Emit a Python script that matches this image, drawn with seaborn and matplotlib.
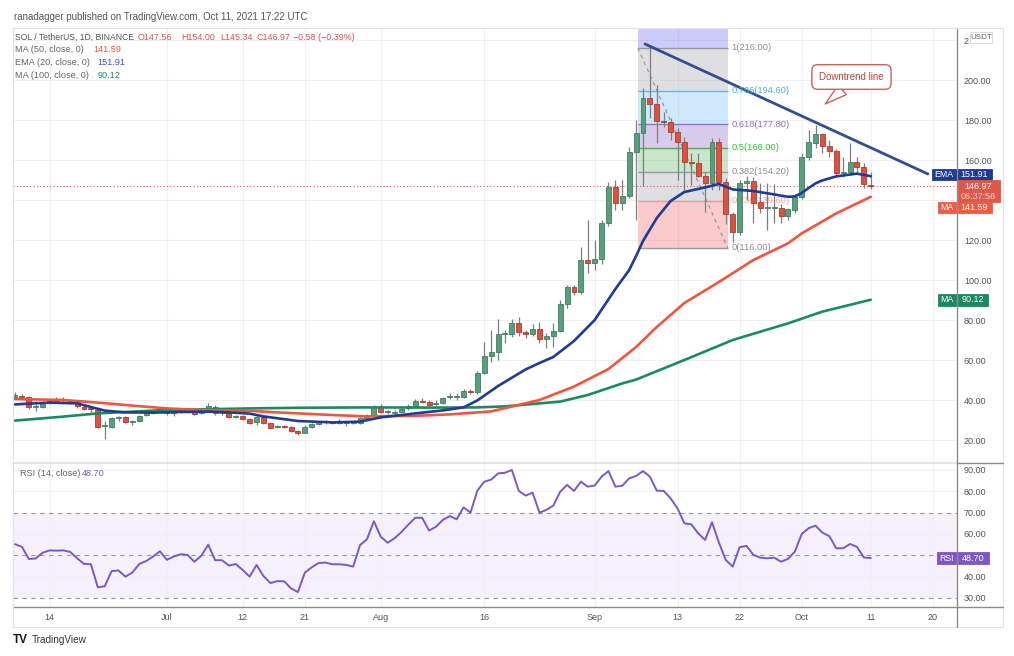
import numpy as np
import pandas as pd
import matplotlib
matplotlib.use('Agg')
import matplotlib.pyplot as plt
import matplotlib.dates as mdates
from matplotlib.patches import Rectangle
from matplotlib.lines import Line2D
import seaborn as sns

# SOL / USDT daily candles (Binance)
first_day = '2021-06-09'
opens = [41.3, 42.2, 41.3, 36.5, 36.7, 38.3, 39.7, 40.2, 39.5, 39.3,
         36.7, 35.5, 35.0, 27.0, 26.7, 30.8, 31.3, 29.0, 29.7, 32.5,
         33.3, 34.7, 35.8, 33.3, 33.8, 34.5, 34.2, 33.3, 34.2, 36.7,
         33.3, 33.3, 31.7, 32.0, 30.3, 29.2, 31.3, 28.7, 26.5, 26.7,
         26.3, 24.7, 23.7, 26.7, 27.8, 28.8, 29.0, 29.2, 28.3, 28.5,
         28.3, 31.2, 32.2, 36.7, 33.8, 33.3, 34.2, 35.8, 37.2, 39.7,
         39.2, 38.0, 38.7, 41.3, 41.6, 41.3, 44.7, 43.8, 53.7, 62.2,
         63.8, 72.8, 72.8, 78.7, 73.8, 72.8, 75.5, 70.3, 72.0, 74.7,
         88.0, 96.3, 94.2, 110.0, 108.3, 110.5, 128.3, 146.3, 138.7, 142.2,
         164.2, 173.3, 190.8, 188.0, 179.7, 178.8, 174.2, 169.2, 158.8, 158.5,
         152.0, 148.5, 169.0, 149.0, 132.8, 124.2, 148.3, 149.7, 139.2, 135.8,
         135.8, 136.2, 132.0, 135.0, 141.3, 161.7, 168.7, 172.8, 167.0, 164.7,
         153.3, 153.8, 158.8, 156.7, 147.56]
highs = [44.0, 43.0, 42.0, 38.0, 39.5, 40.5, 41.5, 41.5, 40.5, 40.0,
         37.5, 36.5, 35.5, 29.5, 31.5, 32.0, 32.0, 29.8, 32.3, 34.0,
         35.0, 36.5, 36.3, 34.5, 35.0, 35.2, 34.5, 34.7, 38.3, 37.3,
         34.2, 33.8, 32.7, 32.5, 30.8, 31.8, 31.8, 29.0, 27.3, 27.3,
         26.8, 25.0, 27.3, 28.3, 29.3, 29.8, 29.7, 30.3, 29.2, 29.5,
         31.5, 33.0, 37.5, 38.0, 35.0, 35.0, 36.2, 38.0, 40.5, 40.8,
         39.8, 40.0, 41.5, 43.5, 43.5, 45.5, 45.5, 54.5, 69.0, 75.0,
         80.3, 75.0, 80.3, 81.7, 75.0, 78.0, 79.0, 73.5, 78.3, 90.0,
         97.5, 97.5, 116.7, 130.0, 120.0, 130.0, 149.0, 150.0, 150.0, 166.7,
         180.0, 196.0, 217.0, 197.5, 184.0, 180.8, 175.8, 171.7, 163.3, 163.3,
         154.0, 170.8, 170.8, 151.0, 134.0, 150.0, 152.0, 151.7, 148.3, 148.3,
         148.0, 138.0, 136.0, 143.0, 163.3, 175.0, 177.5, 173.5, 170.0, 165.5,
         161.7, 168.7, 161.7, 158.3, 154.0]
lows = [40.8, 40.5, 35.5, 34.7, 36.0, 38.0, 39.0, 39.0, 38.3, 36.0,
        34.8, 34.0, 26.0, 20.3, 26.0, 29.5, 28.5, 27.5, 29.0, 32.0,
        32.8, 33.5, 32.5, 31.8, 33.3, 33.7, 32.6, 32.8, 33.8, 32.7,
        32.3, 31.2, 31.0, 30.0, 28.0, 27.5, 27.8, 25.8, 26.0, 25.8,
        24.2, 22.5, 23.3, 26.2, 27.5, 28.2, 28.0, 27.8, 27.0, 27.8,
        28.0, 30.5, 32.0, 33.3, 33.0, 32.7, 33.8, 35.0, 36.8, 38.3,
        37.0, 37.0, 38.0, 40.5, 40.0, 41.0, 43.0, 43.0, 53.0, 59.0,
        60.0, 68.3, 71.5, 72.0, 71.0, 72.0, 68.3, 65.8, 66.7, 74.0,
        85.8, 92.5, 93.0, 103.3, 105.0, 108.0, 127.0, 135.0, 135.0, 141.0,
        130.0, 147.0, 180.8, 168.3, 176.7, 170.0, 150.0, 145.0, 147.5, 151.7,
        134.0, 145.0, 145.0, 128.0, 119.0, 122.5, 140.0, 128.3, 133.3, 125.0,
        128.3, 128.3, 130.0, 133.5, 140.5, 160.0, 166.0, 163.3, 161.7, 152.5,
        151.7, 152.5, 154.2, 145.8, 145.34]
closes = [42.5, 41.3, 36.3, 36.8, 38.7, 39.7, 40.2, 39.8, 38.7, 37.0,
          35.5, 35.3, 26.3, 27.2, 30.8, 31.0, 29.0, 29.3, 32.0, 33.3,
          34.2, 35.3, 33.3, 33.8, 34.5, 34.3, 33.0, 34.2, 37.0, 33.3,
          33.5, 31.7, 32.2, 30.3, 28.7, 31.3, 28.3, 26.2, 26.7, 26.5,
          24.5, 23.7, 26.7, 27.8, 28.8, 29.0, 28.7, 28.3, 28.5, 28.8,
          30.8, 32.5, 36.7, 33.8, 34.0, 34.2, 35.5, 37.2, 39.7, 38.8,
          37.5, 38.5, 40.8, 41.6, 41.9, 44.7, 44.0, 53.7, 62.2, 64.2,
          72.8, 73.0, 78.7, 73.8, 72.8, 75.5, 70.3, 72.0, 74.7, 88.0,
          96.3, 94.2, 110.0, 108.3, 110.5, 128.3, 146.3, 138.7, 142.0, 164.2,
          173.3, 190.8, 188.0, 179.7, 178.8, 174.2, 169.2, 158.8, 158.5, 152.0,
          148.5, 169.0, 149.0, 132.8, 124.2, 148.3, 149.7, 138.5, 135.8, 136.0,
          136.0, 132.0, 135.3, 141.3, 161.7, 169.2, 172.8, 167.0, 164.7, 153.3,
          153.8, 158.8, 156.7, 147.8, 146.97]
rsi14 = [55.2, 54.0, 48.3, 48.5, 51.2, 52.3, 52.2, 52.3, 51.6, 48.6,
         46.0, 45.8, 35.0, 35.5, 42.6, 42.9, 40.0, 41.9, 45.9, 47.3,
         49.4, 51.9, 47.9, 49.4, 50.5, 50.2, 47.0, 49.8, 55.0, 47.7,
         47.7, 45.2, 45.9, 43.1, 40.0, 45.5, 40.3, 37.0, 37.9, 37.8,
         34.5, 32.8, 41.9, 44.4, 46.4, 46.6, 45.8, 45.8, 45.5, 44.7,
         54.8, 57.5, 66.0, 58.7, 55.9, 58.0, 60.9, 64.4, 67.6, 67.6,
         61.6, 63.4, 66.6, 68.4, 66.9, 72.5, 70.0, 80.3, 84.5, 85.5,
         88.4, 88.7, 90.0, 80.2, 78.0, 79.4, 70.0, 71.3, 73.3, 79.8,
         83.0, 80.2, 84.5, 82.2, 82.7, 86.9, 89.5, 82.2, 82.6, 86.1,
         87.2, 89.5, 86.9, 80.3, 80.2, 76.7, 72.0, 65.0, 64.5, 60.3,
         57.2, 65.5, 55.9, 47.8, 44.7, 53.8, 54.4, 50.2, 48.9, 48.6,
         48.9, 47.0, 48.3, 51.7, 60.0, 62.7, 63.9, 60.6, 59.0, 53.3,
         53.3, 55.3, 54.0, 49.0, 48.7]

# moving averages, read at a set of days
ema20_dates = ['2021-06-09', '2021-06-14', '2021-06-18', '2021-06-20', '2021-06-22',
               '2021-06-25', '2021-06-29', '2021-07-03', '2021-07-07', '2021-07-10',
               '2021-07-13', '2021-07-15', '2021-07-20', '2021-07-25', '2021-07-29',
               '2021-08-01', '2021-08-06', '2021-08-10', '2021-08-13', '2021-08-15',
               '2021-08-18', '2021-08-22', '2021-08-24', '2021-08-26', '2021-08-29',
               '2021-09-01', '2021-09-04', '2021-09-06', '2021-09-07', '2021-09-08',
               '2021-09-10', '2021-09-12', '2021-09-14', '2021-09-17', '2021-09-19',
               '2021-09-21', '2021-09-24', '2021-09-27', '2021-09-29', '2021-09-30',
               '2021-10-01', '2021-10-02', '2021-10-03', '2021-10-04', '2021-10-06',
               '2021-10-09', '2021-10-11']
ema20_vals = [37.8, 38.7, 38.3, 36.5, 34.7, 33.8, 33.7, 34.0, 34.2, 33.8,
              33.2, 31.8, 29.5, 28.8, 29.2, 31.3, 33.3, 34.8, 36.3, 39.8,
              47.0, 55.3, 58.5, 61.5, 69.5, 80.0, 95.5, 105.0, 112.0, 119.5,
              131.0, 139.5, 144.0, 146.3, 148.0, 145.3, 144.5, 142.8, 141.6, 141.8,
              143.5, 146.0, 148.3, 149.8, 151.8, 153.2, 151.91]
ma50_dates = ['2021-06-09', '2021-06-16', '2021-06-21', '2021-06-26', '2021-07-01',
              '2021-07-06', '2021-07-13', '2021-07-17', '2021-07-25', '2021-07-30',
              '2021-08-06', '2021-08-11', '2021-08-17', '2021-08-24', '2021-08-29',
              '2021-09-03', '2021-09-07', '2021-09-10', '2021-09-14', '2021-09-19',
              '2021-09-24', '2021-09-29', '2021-10-01', '2021-10-06', '2021-10-11']
ma50_vals = [40.5, 40.0, 38.7, 37.2, 35.8, 35.0, 34.6, 33.8, 32.5, 31.8,
             32.1, 32.8, 34.3, 40.0, 46.7, 55.5, 66.5, 76.5, 88.5, 99.0,
             110.0, 118.3, 123.3, 133.3, 141.59]
ma100_dates = ['2021-06-09', '2021-06-16', '2021-06-21', '2021-06-26', '2021-07-01',
               '2021-07-06', '2021-07-13', '2021-07-20', '2021-07-30', '2021-08-09',
               '2021-08-15', '2021-08-19', '2021-08-27', '2021-08-31', '2021-09-05',
               '2021-09-07', '2021-09-14', '2021-09-21', '2021-09-29', '2021-10-04',
               '2021-10-11']
ma100_vals = [29.7, 31.7, 33.3, 34.2, 35.0, 35.3, 35.8, 36.1, 36.3, 36.2,
              36.3, 36.8, 39.2, 42.5, 48.3, 50.2, 60.0, 70.0, 78.3, 84.2,
              90.12]

# drawings on the chart
fib_levels = [0, 0.236, 0.382, 0.5, 0.618, 0.786, 1]
fib_prices = [116.0, 139.6, 154.2, 166.0, 177.8, 194.6, 216.0]
fib_start, fib_end = '2021-09-07 06:00', '2021-09-20 07:00'
trend_dates = ['2021-09-08 07:00', '2021-10-19 07:00']
trend_prices = [218.0, 153.0]
callout_text = 'Downtrend line'
callout_date, callout_price = '2021-10-08 05:00', 201.5
callout_tip_date, callout_tip_price = '2021-10-04 10:00', 188.0

tick_dates = ['2021-06-14', '2021-07-01', '2021-07-12', '2021-07-21', '2021-08-01',
              '2021-08-16', '2021-09-01', '2021-09-13', '2021-09-22', '2021-10-01',
              '2021-10-11', '2021-10-20']
tick_labels = ['14', 'Jul', '12', '21', 'Aug', '16', 'Sep', '13', '22', 'Oct', '11', '20']
price_ticks = [20, 40, 60, 80, 100, 120, 140, 160, 180, 200, 220]
rsi_ticks = [30, 40, 50, 60, 70, 80, 90]
# labels that sit under the value badges are not visible in the original
hidden_price_ticks = [140]
hidden_rsi_ticks = [50]

last_price, ema_last, ma50_last, ma100_last, rsi_last = 146.97, 151.91, 141.59, 90.12, 48.70

# colours
UP, UP_E = '#5a9f7c', '#3e7f5e'
DN, DN_E = '#dc5240', '#b23b2b'
WICK = '#7d7d7d'
EMA_C, MA50_C, MA100_C = '#1f3c94', '#f0553d', '#1a8b60'
RSI_C = '#7e57c2'
GRID = '#eef0f4'
TXT = '#555555'

sns.set_style('white')
plt.rcParams['font.family'] = ['Liberation Sans', 'DejaVu Sans']

W, H = 1014, 656
fig = plt.figure(figsize=(W / 100, H / 100), dpi=100)
L, R = 13, 957
ax = fig.add_axes([L / W, 1 - 462.5 / H, (R - L) / W, (462.5 - 28) / H])
axr = fig.add_axes([L / W, 1 - 607 / H, (R - L) / W, (607 - 463) / H], sharex=ax)

dates = pd.date_range(first_day, periods=len(closes), freq='D')
df = pd.DataFrame({'date': dates, 'open': opens, 'high': highs, 'low': lows,
                   'close': closes, 'rsi': rsi14})
x0 = mdates.date2num(pd.Timestamp(first_day))
xlim = (x0 - 0.29, x0 + 136.5)

# ---- price pane ----
ax.set_xlim(xlim)
ax.set_ylim(8.75, 226)
ax.set_xticks(pd.to_datetime(tick_dates))
ax.set_yticks(price_ticks)
ax.grid(True, color=GRID, lw=0.8, zorder=0)
ax.set_axisbelow(True)

# fibonacci retracement
fs, fe = mdates.date2num(pd.Timestamp(fib_start)), mdates.date2num(pd.Timestamp(fib_end))
band_cols = ['#ef5350', '#9598a1', '#4caf50', '#7e57c2', '#64b5f6', '#9598a1']
for lo, hi, c in zip(fib_prices[:-1], fib_prices[1:], band_cols):
    ax.fill_between([fs, fe], lo, hi, color=c, alpha=0.3, lw=0, zorder=1)
ax.fill_between([fs, fe], fib_prices[-1], 260, color='#6a6ff0', alpha=0.35, lw=0, zorder=1)
line_cols = ['#9598a1', '#ef9a9a', '#9598a1', '#4caf50', '#8e72c8', '#64b5f6', '#9598a1']
lab_cols = ['#8a8d96', '#f2a3a1', '#8a8d96', '#34c134', '#8e72c8', '#4da6e8', '#8a8d96']
for lvl, p, lc, tc in zip(fib_levels, fib_prices, line_cols, lab_cols):
    ax.hlines(p, fs, fe, color=lc, lw=1, zorder=1.5)
    ax.text(fe + 0.55, p, f'{lvl:g}({p:.2f})', color=tc, fontsize=6.7, va='center',
            ha='left', zorder=2 if lvl == 0.236 else 6)
ax.plot([fs, fe], [fib_prices[-1], fib_prices[0]], color='#9598a1', lw=0.9,
        ls=(0, (3, 3)), zorder=1.6)

# candles
up = df['close'] >= df['open']
body_lo = df[['open', 'close']].min(axis=1)
body_h = (df['close'] - df['open']).abs().clip(lower=0.5)
ax.vlines(df['date'], df['low'], df['high'], color=WICK, lw=0.9, zorder=3)
ax.bar(df['date'], body_h, bottom=body_lo, width=0.72, color=np.where(up, UP, DN),
       edgecolor=np.where(up, UP_E, DN_E), linewidth=0.6, zorder=3.5)

# moving averages
for d, v, c in [(ma100_dates, ma100_vals, MA100_C), (ma50_dates, ma50_vals, MA50_C),
                (ema20_dates, ema20_vals, EMA_C)]:
    line_df = pd.DataFrame({'date': pd.to_datetime(d), 'value': v})
    sns.lineplot(data=line_df, x='date', y='value', ax=ax, color=c, lw=1.9, zorder=4)

ax.axhline(last_price, color='#ef5350', lw=0.8, ls=(0, (1, 2)), zorder=2)

# downtrend line and callout
tx = [mdates.date2num(pd.Timestamp(t)) for t in trend_dates]
ax.plot(tx, trend_prices, color='#2f4f8f', lw=2, zorder=5, solid_capstyle='round')
ax.annotate(callout_text,
            xy=(mdates.date2num(pd.Timestamp(callout_tip_date)), callout_tip_price),
            xytext=(mdates.date2num(pd.Timestamp(callout_date)), callout_price),
            ha='center', va='center', fontsize=7, color='#b8433f', zorder=7,
            bbox=dict(boxstyle='round,pad=0.75,rounding_size=0.6', fc='white', ec='#c9625e', lw=1),
            arrowprops=dict(arrowstyle='wedge,tail_width=1.3,shrink_factor=0.5', fc='white',
                            ec='#c9625e', lw=1, relpos=(0.5, 0.0), shrinkA=0, shrinkB=0))

ax.set_xlabel('')
ax.set_ylabel('')
ax.yaxis.tick_right()
# top label is mostly covered by the USDT badge: only its first digit shows
ax.set_yticklabels(['' if v in hidden_price_ticks else
                    (f'{v:.2f}'[0] if v == price_ticks[-1] else f'{v:.2f}')
                    for v in price_ticks])
ax.tick_params(axis='y', length=0, pad=5, labelsize=6.5, labelcolor=TXT)
ax.tick_params(axis='x', length=0, labelbottom=False)

# ---- RSI pane ----
axr.set_ylim(25.77, 93.28)
axr.axhspan(30, 70, color=RSI_C, alpha=0.08, lw=0, zorder=0.5)
for v in [40, 60, 80, 90]:
    axr.axhline(v, color=GRID, lw=0.8, zorder=0.6)
for v in [30, 50, 70]:
    axr.axhline(v, color='#9598a1', lw=0.8, ls=(0, (4, 4)), zorder=0.7)
axr.grid(True, axis='x', color=GRID, lw=0.8)
axr.set_axisbelow(True)
sns.lineplot(data=df, x='date', y='rsi', ax=axr, color=RSI_C, lw=1.4, zorder=3)
axr.set_xlabel('')
axr.set_ylabel('')
axr.set_xlim(xlim)
axr.set_xticks(pd.to_datetime(tick_dates))
axr.set_xticklabels(tick_labels)
axr.yaxis.tick_right()
axr.set_yticks(rsi_ticks)
axr.set_yticklabels(['' if v in hidden_rsi_ticks else f'{v:.2f}' for v in rsi_ticks])
axr.tick_params(axis='y', length=0, pad=5, labelsize=6.5, labelcolor=TXT)
axr.tick_params(axis='x', length=0, pad=4.5, labelsize=6.5, labelcolor=TXT)

for a in (ax, axr):
    for s in ('left', 'top'):
        a.spines[s].set_color('#e0e3eb')
        a.spines[s].set_linewidth(0.8)
    for s in ('right', 'bottom'):
        a.spines[s].set_color('#8c8c8c')
        a.spines[s].set_linewidth(1)

# outer frame of the chart widget
def fline(xs, ys, c='#e0e3eb', lw=0.8):
    fig.add_artist(Line2D([x / W for x in xs], [1 - y / H for y in ys], color=c, lw=lw,
                          transform=fig.transFigure, zorder=1))

fline([L, 1003], [28, 28])
fline([1003, 1003], [28, 627])
fline([L, 1003], [627, 627])
fline([L, L], [28, 627])
fline([R, 1003], [462.5, 462.5], c='#8c8c8c', lw=1)
fline([R, 1003], [607, 607], c='#8c8c8c', lw=1)
fline([R, R], [607, 627], c='#8c8c8c', lw=1)

def ftext(x, y, s, **kw):
    fig.text(x / W, 1 - y / H, s, va='center', **kw)

def badge(x0_, x1_, yc, h, fc, ec=None):
    fig.add_artist(Rectangle((x0_ / W, 1 - (yc + h / 2) / H), (x1_ - x0_) / W, h / H,
                             transform=fig.transFigure, facecolor=fc,
                             edgecolor=ec or fc, lw=0.6, zorder=10))

def py(a, v):
    return H - a.transData.transform((0, v))[1]

# header texts
ftext(14, 17, 'ranadagger published on TradingView.com, Oct 11, 2021 17:22 UTC',
      fontsize=7, color='#555555')
ftext(15, 37, 'SOL / TetherUS, 1D, BINANCE', fontsize=6.2, color='#555555')
for xx, s in [(137.5, 'O147.56'), (181.5, 'H154.00'), (220, 'L145.34'), (256.5, 'C146.97'),
              (293, '\u22120.58 (\u22120.39%)')]:
    ftext(xx, 37, s, fontsize=6.4, color='#d9534f')
ftext(15, 50, 'MA (50, close, 0)', fontsize=6.6, color='#666666')
ftext(93, 50, f'{ma50_last:.2f}', fontsize=6.6, color=MA50_C)
ftext(15, 62.7, 'EMA (20, close, 0)', fontsize=6.6, color='#666666')
ftext(97, 62.7, f'{ema_last:.2f}', fontsize=6.6, color='#3b55b5')
ftext(15, 75.3, 'MA (100, close, 0)', fontsize=6.6, color='#666666')
ftext(97.5, 75.3, f'{ma100_last:.2f}', fontsize=6.6, color=MA100_C)
ftext(19.5, 474, 'RSI (14, close)', fontsize=6.6, color='#666666')
ftext(82, 474, f'{rsi_last:.2f}', fontsize=6.6, color=RSI_C)

# right axis value badges
y_ema = py(ax, ema_last) - 1.5
badge(932, 956, y_ema, 11, EMA_C)
badge(957.5, 992, y_ema, 11, EMA_C)
ftext(944, y_ema, 'EMA', fontsize=6.3, color='white', ha='center', zorder=11)
ftext(974.5, y_ema, f'{ema_last:.2f}', fontsize=6.5, color='white', ha='center', zorder=11)
y_px = y_ema + 5.5 + 11
badge(957.5, 1000, y_px, 22, '#e0584a')
ftext(978.5, y_px - 5, f'{last_price:.2f}', fontsize=6.5, color='white', ha='center', zorder=11)
ftext(978.5, y_px + 5.5, '06:37:56', fontsize=6.5, color='#f6d3cf', ha='center', zorder=11)
y_ma = y_px + 11 + 5.5
badge(938, 956, y_ma, 11, '#f05a45')
badge(957.5, 992, y_ma, 11, '#f05a45')
ftext(947, y_ma, 'MA', fontsize=6.3, color='white', ha='center', zorder=11)
ftext(974.5, y_ma, f'{ma50_last:.2f}', fontsize=6.5, color='white', ha='center', zorder=11)
y_m100 = py(ax, ma100_last)
badge(938, 956, y_m100, 12, MA100_C)
badge(957.5, 988, y_m100, 12, MA100_C)
ftext(947, y_m100, 'MA', fontsize=6.3, color='white', ha='center', zorder=11)
ftext(972.5, y_m100, f'{ma100_last:.2f}', fontsize=6.5, color='white', ha='center', zorder=11)
y_rsi = py(axr, rsi_last)
badge(937, 955.5, y_rsi, 12, RSI_C)
badge(957.5, 989, y_rsi, 12, RSI_C)
ftext(946, y_rsi, 'RSI', fontsize=6.3, color='white', ha='center', zorder=11)
ftext(973, y_rsi, f'{rsi_last:.2f}', fontsize=6.5, color='white', ha='center', zorder=11)
badge(970, 992, 37.5, 11, 'white', ec='#d1d4dc')
ftext(981, 37.5, 'USDT', fontsize=5.8, color='#666666', ha='center', zorder=11)

# footer logo
ftext(13, 640, 'TV', fontsize=8.5, fontweight='bold', color='#131722')
ftext(32, 640, 'TradingView', fontsize=7.2, color='#333333')

fig.savefig('out.png', dpi=100, facecolor='white')
